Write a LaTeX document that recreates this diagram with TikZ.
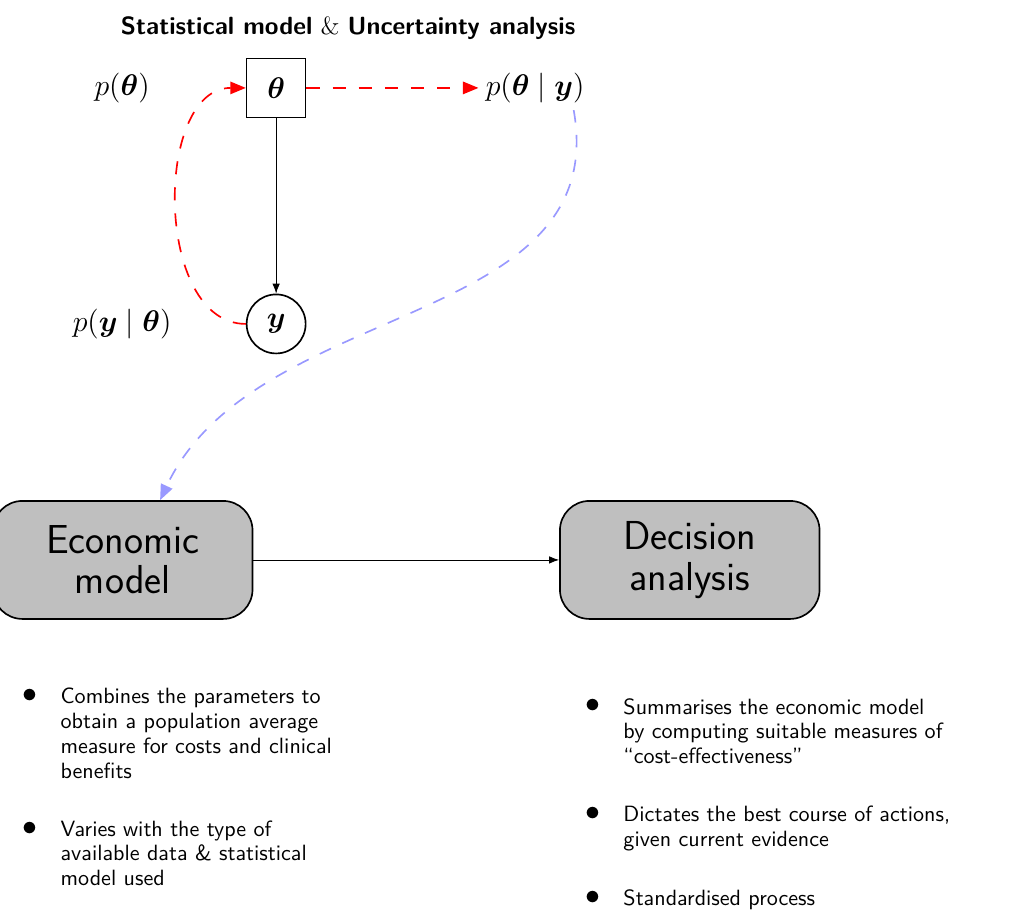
\documentclass[tikz,border=0pt]{standalone}
\usepackage{amsmath}
\usetikzlibrary{arrows.meta}
\renewcommand{\familydefault}{\sfdefault}
\begin{document}
\begin{tikzpicture}[scale=1.0,
    box/.style={draw,thick,rounded corners=0.5cm,fill=gray!50,minimum width=4.4cm,minimum height=2cm,align=center,font=\fontsize{19.5}{19.5}\selectfont},
    prob/.style={font=\Large},
    btext/.style={align=left,anchor=north west,inner sep=0pt,font=\fontsize{10.65}{11.9}\selectfont},
    bdot/.style={inner sep=0pt,font=\Large},
    reddash/.style={draw=red,thick,dash pattern=on 6.3pt off 6.3pt,-{Triangle[length=7.5pt,width=6pt,fill=red]}},
    bluedash/.style={draw=blue!40,thick,dash pattern=on 6pt off 6pt,-{Triangle[length=7.5pt,width=6pt,fill=blue!40]}}]
      \useasboundingbox (0,0) rectangle (17.44,-15.59);
      \node[font=\large](Ntitle) at (5.90,-0.47) {\textbf{Statistical model} $\&$ \textbf{Uncertainty analysis}};
      \node[draw,thick,minimum size=1cm,font=\Large](Ntheta) at (4.68,-1.49) {$\boldsymbol{\theta}$};
      \node[draw,thick,circle,minimum size=1cm,font=\Large](Ny) at (4.68,-5.49) {$\boldsymbol{y}$};
      \node[prob](Npt) at (2.07,-1.49) {$p(\boldsymbol{\theta})$};
      \node[prob](Npyt) at (2.07,-5.49) {$p(\boldsymbol{y}\mid\boldsymbol{\theta})$};
      \node[prob](Npty) at (9.07,-1.49) {$p(\boldsymbol{\theta}\mid\boldsymbol{y})$};
      \node[box](Necon) at (2.08,-9.49) {Economic\\model};
      \node[box](Ndec) at (11.69,-9.49) {Decision\\analysis};
      \draw[-{Latex}](Ntheta)--(Ny);
      \draw[-{Latex}](Necon)--(Ndec);
      \draw[reddash](Ntheta)--(Npty);
      \draw[reddash](Ny.west) to[out=180,in=180] (Ntheta.west);
      \draw[bluedash](Npty.-30) to[out=-80,in=65] (Necon.58);
      \node[btext](E1) at (1.02,-11.66) {Combines the parameters to\\obtain a population average\\measure for costs and clinical\\benefits};
      \node[btext](E2) at (1.02,-13.90) {Varies with the type of\\available data \& statistical\\model used};
      \node[btext](D1) at (10.56,-11.83) {Summarises the economic model\\by computing suitable measures of\\``cost-effectiveness''};
      \node[btext](D2) at (10.56,-13.66) {Dictates the best course of actions,\\given current evidence};
      \node[btext](D3) at (10.56,-15.08) {Standardised process};
      \foreach \x in {E1,E2,D1,D2,D3}{
        \node[bdot,anchor=base] at ([xshift=-0.51cm,yshift=-7.2pt]\x.north west) {$\bullet$};
      }
    \end{tikzpicture}
\end{document}
